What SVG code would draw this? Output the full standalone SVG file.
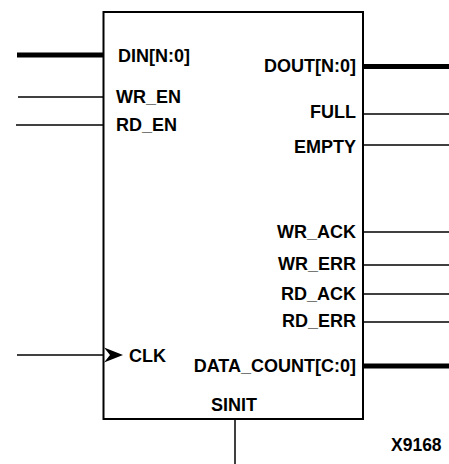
<svg xmlns="http://www.w3.org/2000/svg" width="449" height="464" viewBox="0 0 449 464">
<style>
.t{font-family:"Liberation Sans",Arial,sans-serif;font-weight:bold;font-size:18px;fill:#000}
.r{text-anchor:end}
.w{stroke:#000;stroke-width:1.5;fill:none}
.b{stroke:#000;stroke-width:5;fill:none}
</style>
<rect width="449" height="464" fill="#fff"/>
<g id="connectors">
<line class="b" x1="17" y1="55" x2="103" y2="55"/>
<line class="w" x1="18" y1="97" x2="103" y2="97"/>
<line class="w" x1="16" y1="125" x2="103" y2="125"/>
<line class="w" x1="17" y1="355" x2="104" y2="355"/>
<line class="b" x1="363" y1="66.5" x2="449" y2="66.5"/>
<line class="w" x1="363" y1="114" x2="449" y2="114"/>
<line class="w" x1="363" y1="145" x2="449" y2="145"/>
<line class="w" x1="363" y1="232" x2="449" y2="232"/>
<line class="w" x1="363" y1="265" x2="449" y2="265"/>
<line class="w" x1="363" y1="294" x2="449" y2="294"/>
<line class="w" x1="363" y1="322" x2="449" y2="322"/>
<line class="b" x1="363" y1="366" x2="449" y2="366"/>
<line class="w" x1="235" y1="419" x2="235" y2="464"/>
</g>
<g id="fifo">
<rect x="103.5" y="12" width="259.5" height="407" fill="none" stroke="#000" stroke-width="2"/>
<path d="M104,347.5 L123,355 L104,362.5 L110,355 Z" fill="#000"/>
<text class="t" x="118" y="62">DIN[N:0]</text>
<text class="t" x="116" y="103">WR_EN</text>
<text class="t" x="116" y="131">RD_EN</text>
<text class="t" x="129" y="362">CLK</text>
<text class="t r" x="356" y="72">DOUT[N:0]</text>
<text class="t r" x="356" y="118">FULL</text>
<text class="t r" x="356" y="153">EMPTY</text>
<text class="t r" x="356" y="238">WR_ACK</text>
<text class="t r" x="356" y="270">WR_ERR</text>
<text class="t r" x="356" y="300">RD_ACK</text>
<text class="t r" x="356" y="327">RD_ERR</text>
<text class="t r" x="356" y="372">DATA_COUNT[C:0]</text>
<text class="t" x="211" y="411">SINIT</text>
</g>
<text class="t" x="391" y="451" style="font-size:17.5px">X9168</text>
</svg>
